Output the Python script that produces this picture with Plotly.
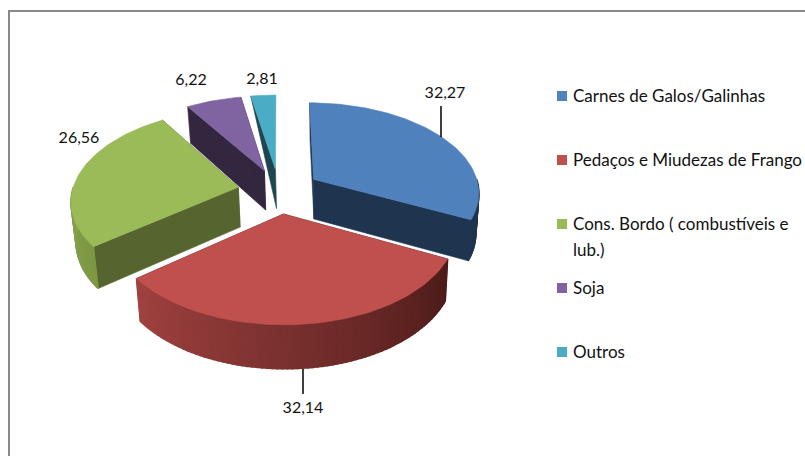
import math
import plotly.graph_objects as go

# ---- data ----
categories = ["Carnes de Galos/Galinhas", "Pedaços e Miudezas de Frango",
              "Cons. Bordo ( combustíveis e<br>lub.)", "Soja", "Outros"]
values = [32.27, 32.14, 26.56, 6.22, 2.81]

# ---- styles ----
top_colors = ["#4f81bd", "#c0504d", "#9bbb59", "#8064a2", "#4bacc6"]
face_colors = ["#1e344f", "#4d1c1a", "#566530", "#33263f", "#1f4650"]
wall_from = ["#1e344f", "#4b1b19", "#7d9743", "#33263f", "#1f4650"]
wall_to = ["#1e344f", "#a04240", "#86a24c", "#33263f", "#1f4650"]
face_rim_depth = [1, 1, 1, 1, 0]
draw_order = [4, 3, 2, 0, 1]
label_pos = [(445, 94), (303, 409), (79, 139), (191, 81), (262, 80)]
legend_y = [96, 160, 224, 288, 352]
LINE_GAP = 26
FONT = "Lato, Carlito, Calibri, sans-serif"

CX, CY, RX, RY, K, EXPLODE = 279, 191, 166, 89.5, 0.132, 0.25
DEPTH, DEPTH_K, SCALE_LOW, SHIFT_LOW = 40, 0.08, 0.98, 1


def project(u, v):
    d = 1 + K * v
    return CX + RX * u / d, CY - RY * v / d


def project_low(u, v):
    x, y = project(u, v)
    return CX + SHIFT_LOW + (x - CX) * SCALE_LOW, y + DEPTH * (1 - DEPTH_K * v)


def mix(a, b, f):
    ca = [int(a[i:i + 2], 16) for i in (1, 3, 5)]
    cb = [int(b[i:i + 2], 16) for i in (1, 3, 5)]
    return "rgb(%d,%d,%d)" % tuple(round(p + (q - p) * f) for p, q in zip(ca, cb))


fig = go.Figure()


def poly(pts, color, width=0.6):
    xs = [p[0] for p in pts] + [pts[0][0]]
    ys = [p[1] for p in pts] + [pts[0][1]]
    fig.add_trace(go.Scatter(x=xs, y=ys, mode="lines", fill="toself", fillcolor=color,
                             line=dict(color=color, width=width),
                             hoverinfo="skip", showlegend=False))


total = sum(values)
bounds = [0.0]
for v in values:
    bounds.append(bounds[-1] + v / total * 360)

for i in draw_order:
    a0, a1 = bounds[i], bounds[i + 1]
    mid = math.radians((a0 + a1) / 2)
    ou, ov = EXPLODE * math.sin(mid), EXPLODE * math.cos(mid)

    def rim(deg):
        t = math.radians(deg)
        return ou + math.sin(t), ov + math.cos(t)

    # radial cut faces
    for ang in (a0, a1):
        if i == 4 and ang == a1:
            continue
        u, v = rim(ang)
        pts = [project(ou, ov), project(u, v)]
        if face_rim_depth[i]:
            pts.append(project_low(u, v))
        pts.append(project_low(ou, ov))
        poly(pts, face_colors[i])

    # outer wall, only the part that faces the viewer
    w0, w1 = max(a0, 90), min(a1, 270)
    if w1 > w0:
        n = max(2, int((w1 - w0) / 1.5))
        for j in range(n):
            d0 = w0 + (w1 - w0) * j / n
            d1 = w0 + (w1 - w0) * (j + 1) / n
            uu0, vv0 = rim(d0)
            uu1, vv1 = rim(d1)
            f = (j + 0.5) / n
            poly([project(uu0, vv0), project(uu1, vv1),
                  project_low(uu1, vv1), project_low(uu0, vv0)],
                 mix(wall_from[i], wall_to[i], f), width=1.5)

    # top face
    n = max(4, int((a1 - a0) / 1.5))
    top = [project(ou, ov)]
    for j in range(n + 1):
        top.append(project(*rim(a0 + (a1 - a0) * j / n)))
    poly(top, top_colors[i])

# leader lines
for xs, ys in (([441, 441], [106, 137]), ([303, 303], [369, 394])):
    fig.add_trace(go.Scatter(x=xs, y=ys, mode="lines", line=dict(color="#000000", width=1.5),
                             hoverinfo="skip", showlegend=False))

# data labels
fig.add_trace(go.Scatter(
    x=[p[0] for p in label_pos], y=[p[1] for p in label_pos], mode="text",
    text=[f"{v:.2f}".replace(".", ",") for v in values], textposition="middle center",
    textfont=dict(family=FONT, size=16, color="#111111"), hoverinfo="skip", showlegend=False))

# legend
fig.add_trace(go.Scatter(
    x=[562] * len(categories), y=legend_y, mode="markers",
    marker=dict(symbol="square", size=10, color=top_colors, line=dict(width=0)),
    hoverinfo="skip", showlegend=False))
annotations = []
for c, y in zip(categories, legend_y):
    for k, part in enumerate(c.split("<br>")):
        annotations.append(dict(x=571, y=y - 1 + k * LINE_GAP, xref="x", yref="y", text=part,
                                showarrow=False, xanchor="left", yanchor="middle", align="left",
                                font=dict(family=FONT, size=17, color="#111111")))

fig.update_layout(
    width=805, height=456, autosize=False, margin=dict(l=0, r=0, t=0, b=0),
    paper_bgcolor="#ffffff", plot_bgcolor="#ffffff", annotations=annotations,
    xaxis=dict(range=[0, 805], visible=False, fixedrange=True),
    yaxis=dict(range=[456, 0], visible=False, fixedrange=True),
    shapes=[dict(type="line", x0=9, x1=9, y0=11, y1=456, line=dict(color="#898989", width=2)),
            dict(type="line", x0=8, x1=805, y0=11, y1=11, line=dict(color="#898989", width=2))],
)
fig.write_html("out.html", config={"displayModeBar": False},
               post_script="document.body.style.margin='0';document.body.style.overflow='hidden';")
